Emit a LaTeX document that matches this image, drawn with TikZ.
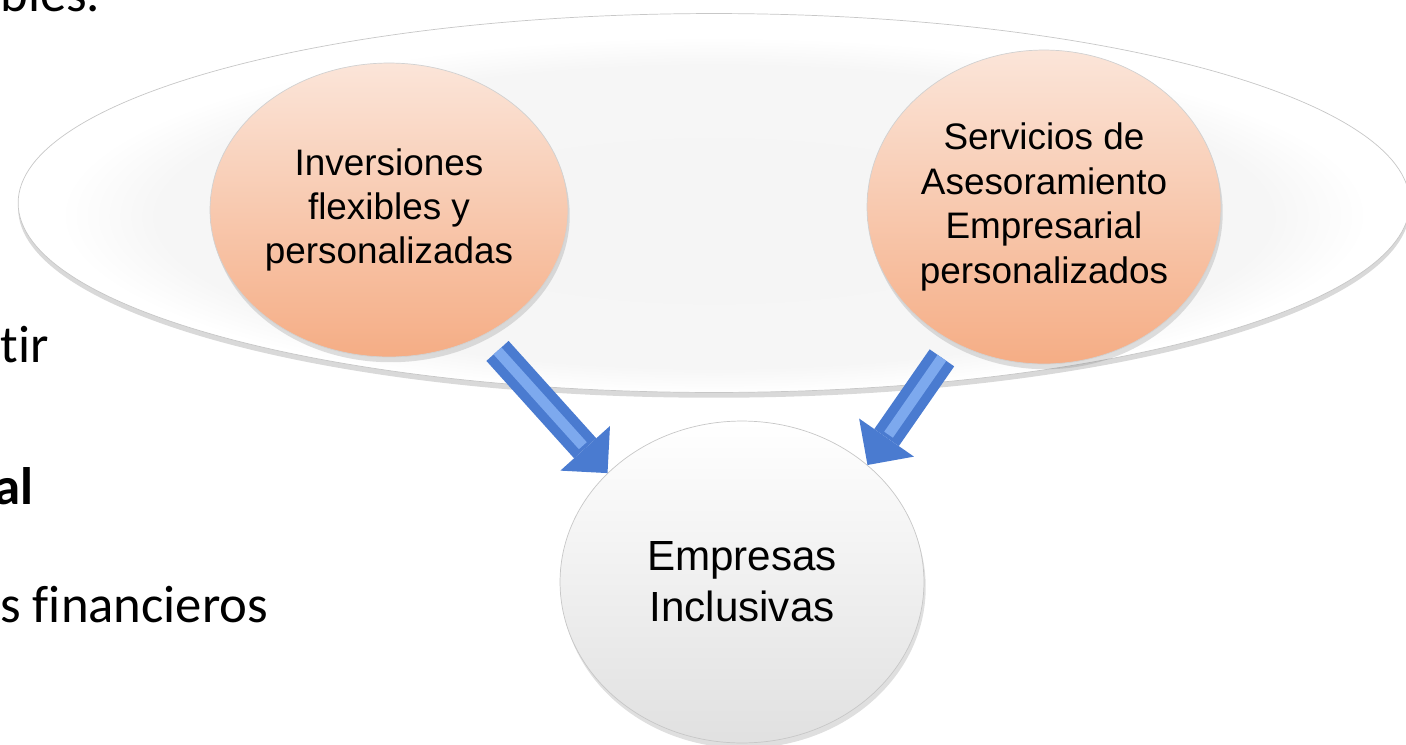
\documentclass[tikz,border=0pt]{standalone}
\usepackage{fontspec}
\setmainfont{Liberation Sans}
\newfontfamily\sidefont[Ligatures=NoCommon]{Carlito}
\usetikzlibrary{arrows.meta,shadows,shapes.geometric}
\definecolor{peachtop}{HTML}{FBE5D9}
\definecolor{peachbot}{HTML}{F5AD85}
\definecolor{arrowblue}{HTML}{4A7BD0}
\definecolor{arrowlight}{HTML}{7DA9EE}
\pgfdeclareradialshading{ringshade}{\pgfpoint{0bp}{-3bp}}{color(0bp)=(black!4); color(20bp)=(black!3.5); color(23.5bp)=(white); color(25bp)=(white); color(50bp)=(white)}

\begin{document}
\begin{tikzpicture}[x=0.02cm, y=-0.02cm,
ring/.style={ellipse, draw=black!22, shade, shading=ringshade, inner sep=0pt, minimum width=27.84cm, minimum height=7.58cm, drop shadow={opacity=0.3, shadow xshift=0pt, shadow yshift=-3pt}},
bubble/.style={ellipse, draw=black!18, top color=peachtop, bottom color=peachbot, inner sep=0pt, align=center, font=\fontsize{21}{25.3}\selectfont, drop shadow={opacity=0.25, shadow xshift=1pt, shadow yshift=-3pt}},
goal/.style={ellipse, draw=black!22, top color=white, bottom color=black!12, inner sep=0pt, align=center, font=\fontsize{24}{29}\selectfont, drop shadow={opacity=0.25, shadow xshift=1pt, shadow yshift=-3pt}},
side/.style={anchor=base west, inner sep=0pt, font=\sidefont\fontsize{30}{36}\selectfont},
blockarrow/.style={draw=arrowblue, line width=17pt, -{Triangle[width=38pt, length=19pt, line width=0pt]}},
arrowshine/.style={draw=arrowlight, line width=6pt, shorten >=21pt}
]
\useasboundingbox (0,0) rectangle (1406,744);
\clip (0,0) rectangle (1406,744);
%Nodes
\node[ring] (ring) at (714,203) {};
\node[bubble, minimum width=7.16cm, minimum height=5.88cm] (inv) at (389,210) {Inversiones\\flexibles y\\personalizadas};
\node[bubble, minimum width=7.08cm, minimum height=6.28cm] (ser) at (1044,207) {Servicios de\\Asesoramiento\\Empresarial\\personalizados};
\node[goal, minimum width=7.28cm, minimum height=6.44cm] (emp) at (742,582) {Empresas\\Inclusivas};
\node[side] (frag1) at (0,11) {bles.};
\node[side] (frag2) at (0,362) {tir};
\node[side, font=\sidefont\bfseries\fontsize{30}{36}\selectfont] (frag3) at (-6,504) {al};
\node[side] (frag4) at (0,622) {s financieros};
%Lines
\draw[blockarrow, shorten <=12pt] (inv.-53) -- (emp.141);
\draw[arrowshine, shorten <=12pt] (inv.-53) -- (emp.141);
\draw[blockarrow, shorten <=11pt] (ser.-124) -- (emp.43);
\draw[arrowshine, shorten <=11pt] (ser.-124) -- (emp.43);
\end{tikzpicture}
\end{document}
